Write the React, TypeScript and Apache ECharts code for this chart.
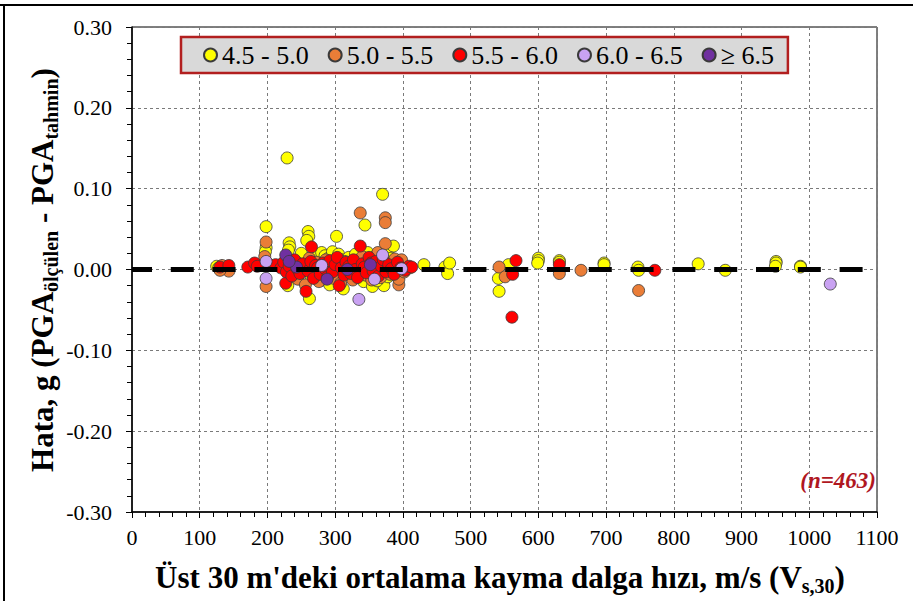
import React, { useEffect, useRef } from "react";
import * as echarts from "echarts";

type P = [number, number];

const seriesNames = ["4.5 - 5.0", "5.0 - 5.5", "5.5 - 6.0", "6.0 - 6.5", "≥ 6.5"];
const seriesColors = ["#ffff00", "#ea7d37", "#ff0000", "#c9a2f2", "#7030a0"];

const pts45: P[] = [
  [125, 0.004], [128, 0.002],
  [198, 0.053], [198, 0.027], [197, 0.022], [198, 0.004],
  [229, 0.138],
  [232, 0.033], [233, 0.028], [231, 0.024], [226, 0.006], [218, 0.005], [230, -0.020], [235, -0.008],
  [260, 0.047], [261, 0.041], [258, 0.036], [262, -0.036], [255, 0.012], [265, -0.010], [250, 0.020],
  [275, 0.018], [280, 0.021], [285, 0.017], [290, 0.014], [296, 0.022], [302, 0.041], [305, 0.019],
  [310, 0.012], [282, -0.013], [292, -0.019], [300, -0.006], [312, -0.024],
  [320, 0.015], [325, 0.009], [330, 0.019], [338, 0.013], [344, 0.055], [348, 0.021], [352, 0.006],
  [335, -0.009], [342, -0.015], [355, -0.021], [328, -0.004],
  [360, 0.017], [365, 0.011], [370, 0.093], [372, -0.020], [375, 0.024], [380, 0.009], [386, 0.029],
  [390, 0.003], [378, -0.009], [395, -0.004], [383, 0.014], [362, -0.014],
  [410, 0.002], [431, 0.006], [462, 0.003], [466, -0.005], [469, 0.008],
  [541, -0.011], [542, -0.027], [556, 0.006],
  [600, 0.014], [600, 0.011], [599, 0.008], [631, 0.011], [631, 0.009],
  [697, 0.008], [697, 0.006], [747, 0.003], [748, -0.001], [836, 0.007], [876, -0.001],
  [951, 0.010], [951, 0.008], [950, 0.004], [987, 0.004], [987, 0.003],
];

const pts50: P[] = [
  [133, 0.005], [143, -0.002], [130, -0.001],
  [198, 0.034], [198, -0.021], [196, 0.016], [200, 0.008],
  [238, -0.004], [242, 0.010], [245, -0.012], [250, 0.006], [256, -0.019], [258, 0.002], [262, 0.014],
  [268, -0.008], [272, 0.009], [276, -0.015], [280, 0.004], [286, 0.012], [290, -0.006], [295, 0.008],
  [298, -0.011], [303, 0.003], [308, -0.017], [314, 0.010], [318, -0.002], [322, 0.006], [326, -0.013],
  [332, 0.004], [337, 0.070], [340, 0.016], [345, -0.007], [350, 0.011], [354, -0.013], [358, 0.005],
  [363, 0.021], [367, -0.010], [374, 0.064], [374, 0.058], [374, 0.032], [377, 0.004], [381, -0.006],
  [388, 0.013], [394, -0.019], [394, -0.012], [398, 0.012], [402, -0.003],
  [542, 0.003], [551, -0.009], [631, -0.005], [663, -0.001], [748, -0.026],
];

const pts55: P[] = [
  [130, 0.003], [143, 0.005], [171, 0.003], [181, 0.008], [185, 0.004],
  [212, 0.006], [220, 0.002], [224, 0.009], [227, -0.017], [228, -0.003], [232, 0.004], [236, -0.008],
  [240, 0.012], [244, 0.001], [248, -0.005], [252, 0.007], [257, -0.027], [260, -0.002], [264, 0.010],
  [265, 0.028], [268, -0.011], [271, 0.005], [274, 0.002], [278, -0.006], [282, 0.008], [285, 0.001],
  [289, -0.009], [292, 0.011], [296, -0.003], [300, 0.006], [303, 0.015], [306, -0.020], [309, 0.002],
  [313, -0.007], [316, 0.009], [320, 0.004], [323, -0.005], [327, 0.012], [330, 0.000], [333, -0.010],
  [337, 0.029], [340, 0.007], [343, 0.003], [346, -0.004], [350, 0.015], [353, 0.008], [356, -0.002],
  [360, 0.010], [364, -0.008], [368, 0.004], [371, 0.012], [375, -0.003], [379, 0.006], [383, 0.001],
  [387, -0.006], [392, 0.009], [397, 0.002], [403, -0.001], [409, 0.004], [413, 0.003],
  [561, -0.059], [562, -0.006], [567, 0.011], [631, 0.006], [772, -0.001],
];

const pts60: P[] = [
  [198, 0.010], [198, -0.011], [335, -0.037], [358, -0.012], [370, 0.018], [398, 0.001], [280, 0.005],
  [1031, -0.018],
];

const pts65: P[] = [
  [227, 0.018], [243, 0.003], [288, -0.012], [232, 0.010], [318, 0.000], [352, 0.006],
];

const zeroLine: P[] = [[0, 0], [1100, 0]];

export default function App() {
  const ref = useRef<HTMLDivElement>(null);
  useEffect(() => {
    const chart = echarts.init(ref.current!, null, { renderer: "svg" });
    const font = "Liberation Serif, serif";
    const allData = [pts45, pts50, pts55, pts60, pts65];
    const scatter = allData.map((d, i) => ({
      name: seriesNames[i],
      type: "scatter",
      data: d,
      symbol: "circle",
      symbolSize: 12,
      itemStyle: { color: seriesColors[i], borderColor: "#3a3a3a", borderWidth: 0.8, opacity: 1 },
      z: 3,
    }));
    const titleRich = (size: number) => ({
      b: { fontFamily: font, fontSize: size, fontWeight: "bold", lineHeight: size + 6, fill: "#000" },
      s: { fontFamily: font, fontSize: Math.round(size * 0.63), fontWeight: "bold", lineHeight: Math.round(size * 0.63), verticalAlign: "bottom", fill: "#000" },
    });
    chart.setOption({
      animation: false,
      backgroundColor: "#ffffff",
      textStyle: { fontFamily: font },
      grid: { left: 132, right: 36, top: 27, bottom: 89, show: true, borderColor: "#000", borderWidth: 1, containLabel: false },
      legend: {
        data: seriesNames,
        left: 181,
        top: 37,
        icon: "circle",
        itemWidth: 13,
        itemHeight: 13,
        itemGap: 19,
        padding: [5, 14, 5, 22],
        backgroundColor: "#d9d9d9",
        borderColor: "#b21f1f",
        borderWidth: 2.5,
        textStyle: { fontFamily: font, fontSize: 26, color: "#000" },
      },
      xAxis: {
        type: "value",
        min: 0,
        max: 1100,
        interval: 100,
        axisLine: { onZero: false, lineStyle: { color: "#000", width: 1.5 } },
        axisTick: { show: true, length: 6, lineStyle: { color: "#000" } },
        minorTick: { show: true, splitNumber: 5, length: 5, lineStyle: { color: "#000" } },
        axisLabel: { fontFamily: font, fontSize: 22, color: "#000", margin: 14, formatter: (v: number) => String(Math.round(v)) },
        splitLine: { show: true, lineStyle: { color: "#7a7a7a", type: [3, 3], width: 1 } },
      },
      yAxis: {
        type: "value",
        min: -0.3,
        max: 0.3,
        interval: 0.1,
        axisLine: { onZero: false, lineStyle: { color: "#000", width: 1.5 } },
        axisTick: { show: true, length: 6, lineStyle: { color: "#000" } },
        minorTick: { show: true, splitNumber: 5, length: 5, lineStyle: { color: "#000" } },
        axisLabel: {
          fontFamily: font,
          fontSize: 22,
          color: "#000",
          margin: 20,
          formatter: (v: number) => v.toFixed(2),
        },
        splitLine: { show: true, lineStyle: { color: "#7a7a7a", type: [3, 3], width: 1 } },
      },
      series: [
        ...scatter,
        {
          name: "zero",
          type: "line",
          data: zeroLine,
          symbol: "none",
          silent: true,
          lineStyle: { color: "#000", width: 5, type: [23, 18.8], dashOffset: 2.7, cap: "butt" },
          z: 10,
        },
      ],
      graphic: [
        { type: "line", shape: { x1: 0, y1: 5, x2: 913, y2: 5 }, style: { stroke: "#000", lineWidth: 2 } },
        { type: "line", shape: { x1: 4, y1: 4, x2: 4, y2: 601 }, style: { stroke: "#000", lineWidth: 2 } },
        {
          type: "text",
          x: 500,
          y: 577,
          style: {
            text: "{b|Üst 30 m'deki ortalama kayma dalga hızı, m/s (V}{s|s,30}{b|)}",
            align: "center",
            verticalAlign: "middle",
            rich: titleRich(31),
          },
        },
        {
          type: "text",
          x: 42,
          y: 270,
          rotation: Math.PI / 2,
          style: {
            text: "{b|Hata, g (PGA}{s|ölçülen}{b| - PGA}{s|tahmin}{b|)}",
            align: "center",
            verticalAlign: "middle",
            rich: titleRich(31),
          },
        },
        {
          type: "text",
          x: 876,
          y: 480,
          style: {
            text: "(n=463)",
            align: "right",
            verticalAlign: "middle",
            fontFamily: font,
            fontSize: 23,
            fontStyle: "italic",
            fontWeight: "bold",
            fill: "#b0171f",
          },
        },
      ],
    });
    return () => chart.dispose();
  }, []);
  return <div ref={ref} style={{ position: "fixed", left: 0, top: 0, width: 913, height: 601 }} />;
}
